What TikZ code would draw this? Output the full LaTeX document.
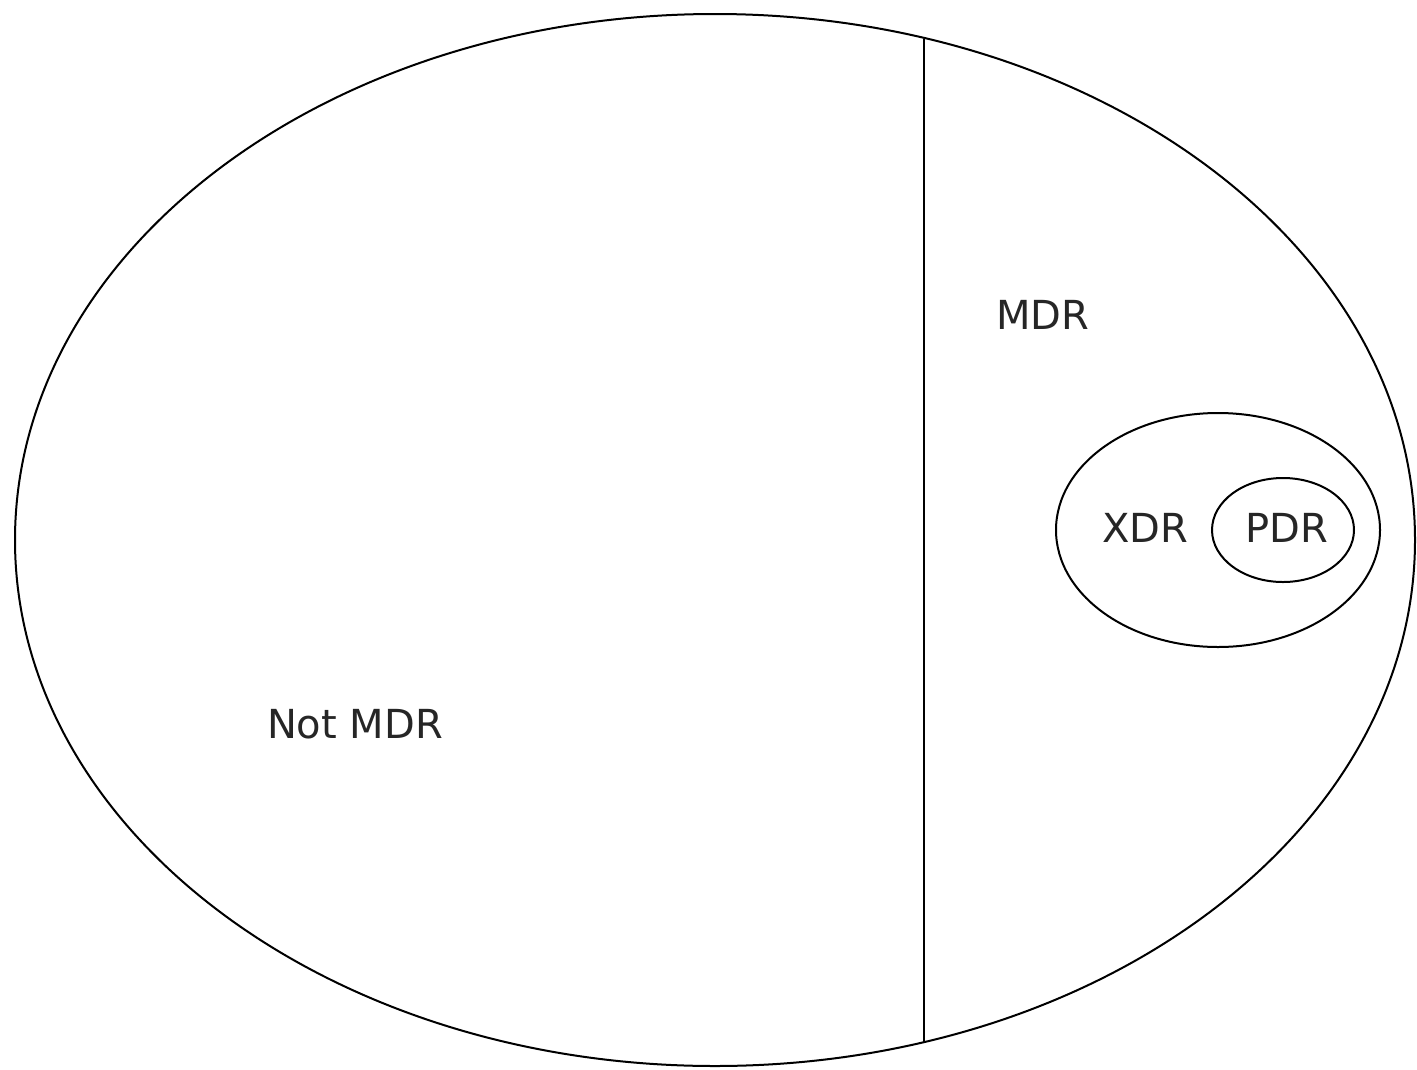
\documentclass[tikz,border=0pt]{standalone}
\usepackage{fontspec}
\setmainfont{DejaVu Sans}
\usetikzlibrary{shapes.geometric}
\tikzset{
  reg/.style={ellipse, draw=black, line width=2pt, inner sep=0pt},
  lbl/.style={text=black!85, font=\fontsize{40}{48}\selectfont, inner sep=0pt}
}

\begin{document}
\begin{tikzpicture}[x=1pt, y=-1pt]
	\useasboundingbox (0,0) rectangle (1417,1069);
	\node[reg, minimum width=1400pt, minimum height=1052pt] (all) at (715,540) {};
	\node[reg, minimum width=324pt, minimum height=234pt] (xdr) at (1218,530) {};
	\node[reg, minimum width=142pt, minimum height=104pt] (pdr) at (1283,530) {};
	%
	\coordinate (divtop) at (924,39);
	\coordinate (divbot) at (924,1043);
	\draw[line width=2pt] (divtop) -- (divbot);
	%
	\node[lbl] (mdr) at (1043,315) {MDR};
	\node[lbl] (notmdr) at (355,724) {Not MDR};
	\node[lbl] (xdrlbl) at (1145,528) {XDR};
	\node[lbl] (pdrlbl) at (1287,528) {PDR};
\end{tikzpicture}
\end{document}
